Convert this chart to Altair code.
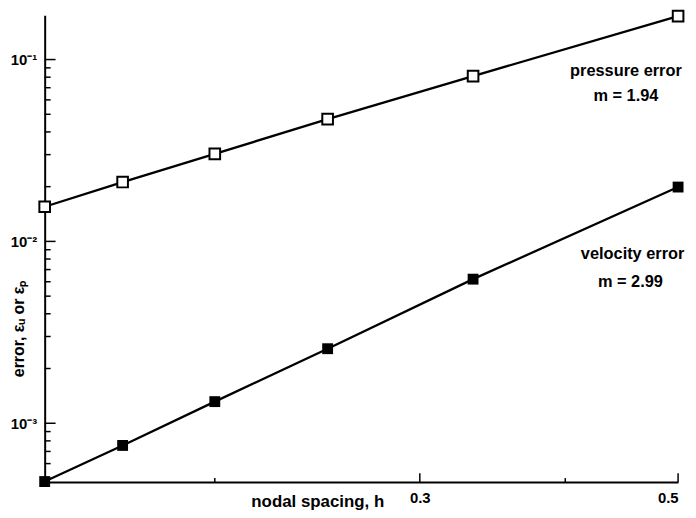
import altair as alt
import pandas as pd

# nodal spacing h
h = [1/7, 1/6, 1/5, 1/4, 1/3, 1/2]
# errors
pressure_err = [0.0155, 0.0212, 0.0303, 0.0470, 0.0811, 0.1733]
velocity_err = [0.000478, 0.000755, 0.001315, 0.00257, 0.0062, 0.0199]

x_domain = [1/7, 0.5]
y_domain = [0.000475, 0.1754]

x_label_values = [0.3, 0.5]
x_minor_values = [0.2, 0.4]
y_major_values = [0.001, 0.01, 0.1]
y_major_labels = ["10⁻³", "10⁻²", "10⁻¹"]
y_minor_values = [0.0005, 0.0006, 0.0007, 0.0008, 0.0009,
                  0.002, 0.003, 0.004, 0.005, 0.006, 0.007, 0.008, 0.009,
                  0.02, 0.03, 0.04, 0.05, 0.06, 0.07, 0.08, 0.09]

ann_text = ["pressure error", "m = 1.94", "velocity error", "m = 2.99"]
ann_h = [0.451, 0.451, 0.457, 0.455]
ann_err = [0.086, 0.0628, 0.00849, 0.00597]

W, H = 639, 471
FONT = "Liberation Sans"

xs = alt.Scale(type="log", domain=x_domain, nice=False, zero=False)
ys = alt.Scale(type="log", domain=y_domain, nice=False, zero=False)

label_expr = " : ".join(
    f"datum.value == {v} ? '{l}'" for v, l in zip(y_major_values, y_major_labels)
) + " : ''"

p_df = pd.DataFrame({"h": h, "err": pressure_err})
v_df = pd.DataFrame({"h": h, "err": velocity_err})

x_axis = alt.Axis(values=x_label_values, format=".1f", title="nodal spacing, h",
                  titleX=275, titleY=25, titleAlign="center", titleBaseline="alphabetic",
                  titleFontSize=17, labelPadding=9, labelFontSize=15)
y_axis = alt.Axis(values=y_major_values, labelExpr=label_expr, title="error, εᵤ or εₚ",
                  titleAngle=-90, titleX=-26, titleY=316, titleAlign="center",
                  titleBaseline="middle", titleFontSize=16, labelPadding=8, labelFontSize=15)

base_p = alt.Chart(p_df)
base_v = alt.Chart(v_df)

p_line = base_p.mark_line(color="black", strokeWidth=2.3).encode(
    x=alt.X("h:Q", scale=xs, axis=x_axis),
    y=alt.Y("err:Q", scale=ys, axis=y_axis),
)
p_pts = base_p.mark_point(shape="square", filled=True, fill="white", stroke="black",
                          strokeWidth=2, size=115, opacity=1).encode(
    x=alt.X("h:Q", scale=xs), y=alt.Y("err:Q", scale=ys))
v_line = base_v.mark_line(color="black", strokeWidth=2.3).encode(
    x=alt.X("h:Q", scale=xs), y=alt.Y("err:Q", scale=ys))
v_pts = base_v.mark_point(shape="square", filled=True, color="black", size=120, opacity=1).encode(
    x=alt.X("h:Q", scale=xs), y=alt.Y("err:Q", scale=ys))

ymaj = alt.Chart(pd.DataFrame({"err": y_major_values})).mark_rule(color="black", strokeWidth=1.5).encode(
    y=alt.Y("err:Q", scale=ys), x=alt.value(0), x2=alt.value(11))
ymin = alt.Chart(pd.DataFrame({"err": y_minor_values})).mark_rule(color="black", strokeWidth=1.5).encode(
    y=alt.Y("err:Q", scale=ys), x=alt.value(0), x2=alt.value(6))
xmaj = alt.Chart(pd.DataFrame({"h": x_label_values})).mark_rule(color="black", strokeWidth=1.5).encode(
    x=alt.X("h:Q", scale=xs), y=alt.value(H), y2=alt.value(H - 9))
xmin = alt.Chart(pd.DataFrame({"h": x_minor_values})).mark_rule(color="black", strokeWidth=1.5).encode(
    x=alt.X("h:Q", scale=xs), y=alt.value(H), y2=alt.value(H - 4))

ann = alt.Chart(pd.DataFrame({"t": ann_text, "h": ann_h, "err": ann_err})).mark_text(
    font=FONT, fontWeight="bold", fontSize=16.5, color="black", align="center", baseline="middle"
).encode(x=alt.X("h:Q", scale=xs), y=alt.Y("err:Q", scale=ys), text="t:N")

chart = alt.layer(ymaj, ymin, xmaj, xmin, p_line, v_line, p_pts, v_pts, ann).properties(
    width=W, height=H,
    autosize=alt.AutoSizeParams(type="none"),
    padding={"left": 37, "top": 5, "right": 10, "bottom": 30},
).configure_view(stroke=None).configure_axis(
    domainColor="black", domainWidth=2, ticks=False, grid=False,
    labelFont=FONT, labelFontWeight="bold", labelColor="black",
    titleFont=FONT, titleFontWeight="bold", titleColor="black",
)

chart.save("out.html", embed_options={"renderer": "svg", "actions": False})
